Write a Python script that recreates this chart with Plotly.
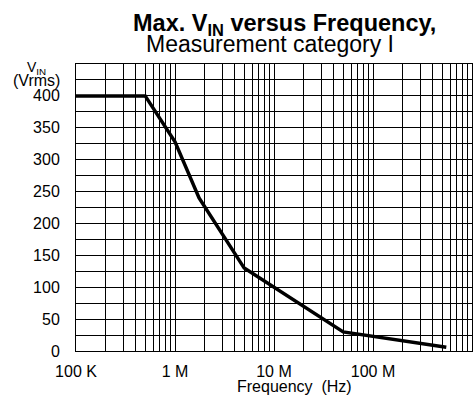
import plotly.graph_objects as go

# Data
freq_hz = [1e5, 5e5, 1e6, 1.75e6, 5e6, 5e7, 5.5e8]
vin_vrms = [400, 400, 328, 240, 130, 30, 6]

x_major = [1e5, 1e6, 1e7, 1e8]
x_major_labels = ["100 K", "1 M", "10 M", "100 M"]
y_ticks = list(range(0, 451, 25))
y_labels = [str(v) if (v % 50 == 0 and v <= 400) else "" for v in y_ticks]

x_ticks = []
x_text = []
for d in x_major:
    for m in range(1, 10):
        x_ticks.append(d * m)
        x_text.append(x_major_labels[x_major.index(d)] if m == 1 else "")
x_ticks.append(1e9)
x_text.append("")

FONT = "Liberation Sans, Arial, sans-serif"
W, H = 474, 396
ML, MR, MT, MB = 76, 2, 64, 45
pw = W - ML - MR
ph = H - MT - MB


def px(x, y):
    """pixel (from top-left) -> paper coords"""
    return (x - ML) / pw, (H - y - MB) / ph


fig = go.Figure()
fig.add_trace(go.Scatter(x=freq_hz, y=vin_vrms, mode="lines",
                         line=dict(color="black", width=3.5), showlegend=False))

anns = []
for text, (x, y), size in [
    ("<b>Max. V<sub>IN</sub> versus Frequency,</b>", (284, 24), 23.5),
    ("Measurement category I", (270, 44), 23),
    ("V<sub>IN</sub>", (36, 68), 14),
    ("(Vrms)", (36, 81), 16),
    ("Frequency  (Hz)", (294, 386), 16),
]:
    xp, yp = px(x, y)
    anns.append(dict(text=text, x=xp, y=yp, xref="paper", yref="paper",
                     xanchor="center", yanchor="middle", showarrow=False,
                     font=dict(size=size)))

fig.update_layout(
    width=W, height=H,
    margin=dict(l=ML, r=MR, t=MT, b=MB, autoexpand=False),
    paper_bgcolor="white", plot_bgcolor="white",
    font=dict(family=FONT, size=16, color="black"),
    xaxis=dict(type="log", range=[5, 9], tickvals=x_ticks, ticktext=x_text,
               showgrid=True, gridcolor="black", gridwidth=1,
               showline=True, linecolor="black", linewidth=1, mirror=True,
               ticks="", zeroline=False, ticklabelstandoff=6, automargin=False,
               tickfont=dict(size=16)),
    yaxis=dict(range=[0, 450], tickvals=y_ticks, ticktext=y_labels,
               showgrid=True, gridcolor="black", gridwidth=1,
               showline=True, linecolor="black", linewidth=1, mirror=True,
               ticks="", zeroline=False, ticklabelstandoff=12, automargin=False,
               tickfont=dict(size=16)),
    annotations=anns,
)
fig.write_html("out.html", config={"displayModeBar": False},
               post_script="document.body.style.margin='0';document.body.style.overflow='hidden';")
